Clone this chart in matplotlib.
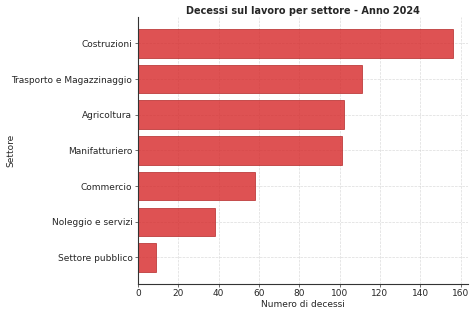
import matplotlib
matplotlib.use('Agg')
import matplotlib.pyplot as plt

# settori e numero di decessi (2024)
settori = ['Costruzioni', 'Trasporto e Magazzinaggio', 'Agricoltura',
           'Manifatturiero', 'Commercio', 'Noleggio e servizi', 'Settore pubblico']
decessi = [156, 111, 102, 101, 58, 38, 9]

txt = '#262626'

fig = plt.figure(figsize=(4.74, 3.13), dpi=100)
ax = fig.add_axes([0.291, 0.093, 0.697, 0.853])

ax.barh(settori, decessi, color='#d62728', alpha=0.8, edgecolor='#b22222', linewidth=0.6)
ax.invert_yaxis()

ax.set_title('Decessi sul lavoro per settore - Anno 2024', fontsize=7, fontweight='bold',
             color=txt, pad=2)
ax.set_xlabel('Numero di decessi', fontsize=6.5, color=txt, labelpad=1)
ax.set_ylabel('Settore', fontsize=6.5, color=txt)
ax.yaxis.set_label_coords(-0.37, 0.5)
ax.tick_params(labelsize=6.5, labelcolor=txt, length=2.5, width=0.6, pad=1.5, color='#555555')

ax.grid(True, linestyle='--', linewidth=0.5, color='#cccccc', alpha=0.7)
ax.set_axisbelow(True)
for s in ['top', 'right']:
    ax.spines[s].set_visible(False)
for s in ['left', 'bottom']:
    ax.spines[s].set_linewidth(0.8)
    ax.spines[s].set_color('#333333')

fig.savefig('out.png', dpi=100)
